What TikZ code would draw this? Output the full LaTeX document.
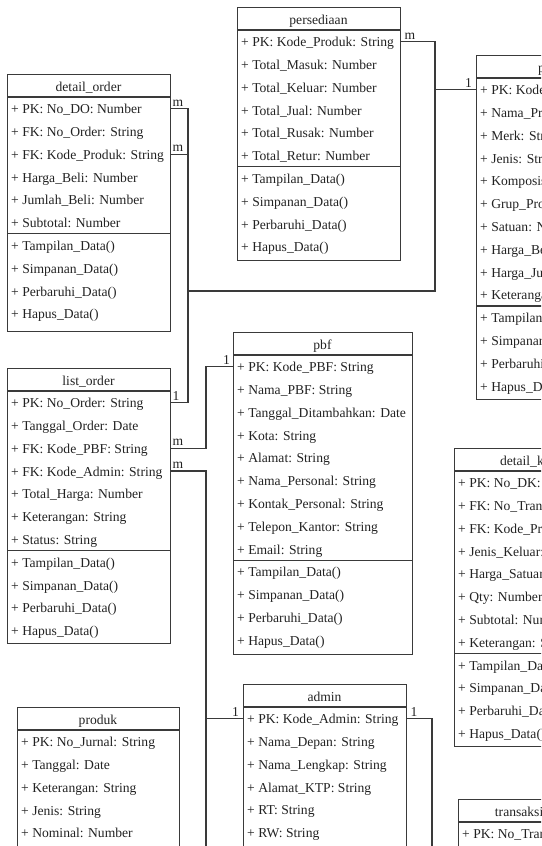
\documentclass[tikz,border=0pt]{standalone}
\usepackage{fontspec}
\setmainfont{Liberation Serif}

\definecolor{linec}{HTML}{3A3A3A}
\definecolor{txtc}{HTML}{222222}
\newcommand{\rowfont}{\fontsize{13.6}{16}\selectfont}

\tikzset{
  frame/.style={draw=linec, line width=1.1pt, anchor=north west, inner sep=0pt},
  rule/.style={draw=linec, line width=1.1pt},
  rowbox/.style={anchor=north west, inner xsep=4pt, inner ysep=0pt,
    minimum height=22.8pt, text height=11pt, text depth=1pt,
    font=\rowfont, text=txtc},
  titletext/.style={anchor=base, inner sep=0pt, font=\rowfont, text=txtc},
  multl/.style={anchor=base west, inner sep=0pt, font=\rowfont, text=txtc},
  multr/.style={anchor=base east, inner sep=0pt, font=\rowfont, text=txtc},
  conn/.style={draw=linec, line width=1.1pt},
}

% frame, title and attribute rows of a class
% #1 name, #2 left, #3 top, #4 width, #5 bottom, #6 title, #7 attributes
\newcommand{\classtop}[7]{%
  \pgfmathsetmacro\clsh{#5-#3}%
  \node[frame, minimum width=#4pt, minimum height=\clsh pt] (#1) at (#2,#3) {};
  \node[titletext] (#1-title) at ({#2+#4/2},{#3+17.5}) {#6};
  \draw[rule] (#2,{#3+23}) -- ++(#4,0);
  \foreach \t [count=\i] in {#7} {
    \node[rowbox, minimum width=#4pt] (#1-a\i) at (#2,{#3+23+(\i-1)*22.8})
      {\makebox[\dimexpr#4pt-8pt\relax][l]{\t}};
  }
}
% separator and operation rows of a class
% #1 name, #2 left, #3 top, #4 width, #5 number of attributes, #6 operations
\newcommand{\classops}[6]{%
  \draw[rule] (#2,{#3+23+#5*22.8}) -- ++(#4,0);
  \foreach \t [count=\i] in {#6} {
    \node[rowbox, minimum width=#4pt] (#1-m\i) at (#2,{#3+23+(#5+\i-1)*22.8})
      {\makebox[\dimexpr#4pt-8pt\relax][l]{\t}};
  }
}
\newcommand{\crud}{+ Tampilan\_Data(), + Simpanan\_Data(), + Perbaruhi\_Data(), + Hapus\_Data()}

\begin{document}
\begin{tikzpicture}[x=1pt, y=-1pt]
\useasboundingbox (0,0) rectangle (541,846);
\clip (0,0) rectangle (541,846);

% persediaan
\classtop{pers}{237}{7}{163}{260}{persediaan}{+ PK: Kode\_Produk: String, + Total\_Masuk: Number, + Total\_Keluar: Number, + Total\_Jual: Number, + Total\_Rusak: Number, + Total\_Retur: Number}
\classops{pers}{237}{7}{163}{6}{+ Tampilan\_Data(), + Simpanan\_Data(), + Perbaruhi\_Data(), + Hapus\_Data()}

% detail_order
\classtop{dord}{7}{74}{163}{331}{detail\_order}{+ PK: No\_DO: Number, + FK: No\_Order: String, + FK: Kode\_Produk: String, + Harga\_Beli: Number, + Jumlah\_Beli: Number, + Subtotal: Number}
\classops{dord}{7}{74}{163}{6}{+ Tampilan\_Data(), + Simpanan\_Data(), + Perbaruhi\_Data(), + Hapus\_Data()}

% produk
\classtop{prod}{476}{55}{163}{399}{produk}{+ PK: Kode\_Produk: String, + Nama\_Produk: String, + Merk: String, + Jenis: String, + Komposisi: String, + Grup\_Produk: String, + Satuan: Number, + Harga\_Beli: Number, + Harga\_Jual: Number, + Keterangan: String}
\classops{prod}{476}{55}{163}{10}{+ Tampilan\_Data(), + Simpanan\_Data(), + Perbaruhi\_Data(), + Hapus\_Data()}

% list_order
\classtop{lord}{7}{368}{163}{643}{list\_order}{+ PK: No\_Order: String, + Tanggal\_Order: Date, + FK: Kode\_PBF: String, + FK: Kode\_Admin: String, + Total\_Harga: Number, + Keterangan: String, + Status: String}
\classops{lord}{7}{368}{163}{7}{+ Tampilan\_Data(), + Simpanan\_Data(), + Perbaruhi\_Data(), + Hapus\_Data()}

% pbf
\classtop{pbf}{233}{332}{179}{654}{pbf}{+ PK: Kode\_PBF: String, + Nama\_PBF: String, + Tanggal\_Ditambahkan: Date, + Kota: String, + Alamat: String, + Nama\_Personal: String, + Kontak\_Personal: String, + Telepon\_Kantor: String, + Email: String}
\classops{pbf}{233}{332}{179}{9}{+ Tampilan\_Data(), + Simpanan\_Data(), + Perbaruhi\_Data(), + Hapus\_Data()}

% detail_keluar
\classtop{dkel}{454}{448}{163}{746}{detail\_keluar}{+ PK: No\_DK: Number, + FK: No\_Transaksi: String, + FK: Kode\_Produk: String, + Jenis\_Keluar: String, + Harga\_Satuan: Number, + Qty: Number, + Subtotal: Number, + Keterangan: String}
\classops{dkel}{454}{448}{163}{8}{+ Tampilan\_Data(), + Simpanan\_Data(), + Perbaruhi\_Data(), + Hapus\_Data()}

% admin
\classtop{admin}{243}{684}{163}{900}{admin}{+ PK: Kode\_Admin: String, + Nama\_Depan: String, + Nama\_Lengkap: String, + Alamat\_KTP: String, + RT: String, + RW: String}

% produk (jurnal)
\classtop{jurnal}{17}{707}{162}{900}{produk}{+ PK: No\_Jurnal: String, + Tanggal: Date, + Keterangan: String, + Jenis: String, + Nominal: Number}

% transaksi_keluar
\classtop{trk}{458}{799}{163}{900}{transaksi\_keluar}{+ PK: No\_Transaksi: String}

% bend points of the connectors
\coordinate (b1) at (188,0);
\coordinate (bus) at (435,291);
\coordinate (b2) at (206,0);
\coordinate (down1) at (206,860);
\coordinate (down2) at (432,860);

% detail_order -> list_order
\draw[conn] (dord-a1.east) -- (dord-a1.east -| b1) -- (lord-a1.east -| b1) -- (lord-a1.east);
% detail_order -> produk
\draw[conn] (dord-a3.east) -- (dord-a3.east -| b1) -- (b1 |- bus) -- (bus) -- (bus |- prod-a1.west) -- (prod-a1.west);
% persediaan -> produk
\draw[conn] (pers-a1.east) -- (pers-a1.east -| bus) -- (bus |- prod-a1.west);
% list_order -> pbf
\draw[conn] (lord-a3.east) -- (lord-a3.east -| b2) -- (pbf-a1.west -| b2) -- (pbf-a1.west);
% list_order -> admin
\draw[conn] (lord-a4.east) -- (lord-a4.east -| b2) -- (admin-a1.west -| b2) -- (admin-a1.west);
% admin -> classes further down
\draw[conn] (admin-a1.west) -- (admin-a1.west -| down1) -- (down1);
\draw[conn] (admin-a1.east) -- (admin-a1.east -| down2) -- (down2);

% multiplicities
\node[multl] (m-dord1) at ([xshift=2pt,yshift=2.5pt]dord-a1.east) {m};
\node[multl] (m-dord3) at ([xshift=2pt,yshift=2.5pt]dord-a3.east) {m};
\node[multl] (m-pers) at ([xshift=4pt,yshift=2.5pt]pers-a1.east) {m};
\node[multr] (m-prod) at ([xshift=-4pt,yshift=2.5pt]prod-a1.west) {1};
\node[multl] (m-lord1) at ([xshift=2pt,yshift=2pt]lord-a1.east) {1};
\node[multl] (m-lord3) at ([xshift=2pt,yshift=2.5pt]lord-a3.east) {m};
\node[multl] (m-lord4) at ([xshift=2pt,yshift=2.5pt]lord-a4.east) {m};
\node[multr] (m-pbf) at ([xshift=-3pt,yshift=2pt]pbf-a1.west) {1};
\node[multr] (m-adminw) at ([xshift=-4pt,yshift=2pt]admin-a1.west) {1};
\node[multl] (m-admine) at ([xshift=4pt,yshift=2pt]admin-a1.east) {1};
\end{tikzpicture}
\end{document}
